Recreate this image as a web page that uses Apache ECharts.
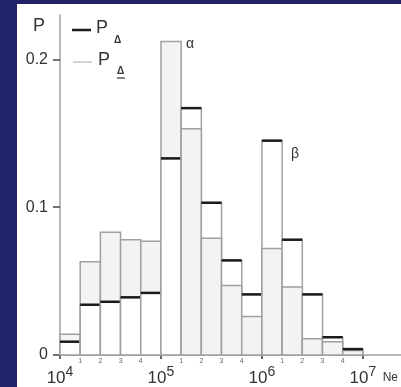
<!DOCTYPE html>
<html>
<head>
<meta charset="utf-8">
<script src="https://cdn.jsdelivr.net/npm/echarts@6.0.0/dist/echarts.min.js"></script>
<style>
html, body { margin: 0; padding: 0; }
body { width: 401px; height: 387px; background: #23236a; position: relative; overflow: hidden; }
#chart { position: absolute; left: 17px; top: 4px; width: 384px; height: 383px; background: #fff; }
</style>
</head>
<body>
<div id="chart"></div>
<script>
// lower edge of each bin, log10(Ne), bins are 0.2 decade wide
var binLo = [4.0, 4.2, 4.4, 4.6, 4.8, 5.0, 5.2, 5.4, 5.6, 5.8, 6.0, 6.2, 6.4, 6.6, 6.8];
var binWidth = 0.2;
// P_delta (thick black top)
var pDelta = [0.009, 0.034, 0.036, 0.039, 0.042, 0.133, 0.167, 0.103, 0.064, 0.041, 0.145, 0.078, 0.041, 0.012, 0.004];
// P_delta underlined (thin grey top)
var pDeltaU = [0.014, 0.063, 0.083, 0.078, 0.077, 0.212, 0.153, 0.079, 0.047, 0.026, 0.072, 0.046, 0.011, 0.009, 0.003];

var yTicks = [0, 0.1, 0.2];
var majorTicks = [4, 5, 6, 7];
var minorTicks = [4.2, 4.4, 4.6, 4.8, 5.2, 5.4, 5.6, 5.8, 6.2, 6.4, 6.6, 6.8];

var font = 'Liberation Sans, Arial, sans-serif';

var data = [];
for (var i = 0; i < binLo.length; i++) {
	data.push([binLo[i], pDelta[i], pDeltaU[i]]);
}

function renderItem(params, api) {
	var lo = api.value(0);
	var a = api.value(1);
	var b = api.value(2);
	var base = api.coord([lo, 0]);
	var right = api.coord([lo + binWidth, 0])[0];
	var yA = api.coord([lo, a])[1];
	var yB = api.coord([lo, b])[1];
	var w = right - base[0];
	var thickRect = {
		type: 'rect',
		shape: { x: base[0], y: yA, width: w, height: base[1] - yA },
		style: { fill: '#ffffff', stroke: '#a0a0a0', lineWidth: 1.5 }
	};
	var thinRect = {
		type: 'rect',
		shape: { x: base[0], y: yB, width: w, height: base[1] - yB },
		style: { fill: '#f3f3f3', stroke: '#a0a0a0', lineWidth: 1.5 }
	};
	// taller box behind, shorter box in front
	var children = a >= b ? [thickRect, thinRect] : [thinRect, thickRect];
	children.push({
		type: 'line',
		shape: { x1: base[0], y1: yA, x2: right, y2: yA },
		style: { stroke: '#1a1a1a', lineWidth: 2.5 }
	});
	return { type: 'group', children: children };
}

var myChart = echarts.init(document.getElementById('chart'));
var option = {
	backgroundColor: '#ffffff',
	animation: false,
	grid: { left: 43, right: -2, top: 11, bottom: 29 },
	xAxis: [
		{
			type: 'value',
			min: 4,
			max: 7.374,
			axisLine: { show: true, lineStyle: { color: '#a0a0a0', width: 1.5 } },
			axisTick: { show: false },
			splitLine: { show: false },
			axisLabel: {
				customValues: minorTicks,
				margin: 3,
				fontSize: 7,
				color: '#666',
				fontFamily: font,
				formatter: function(v) {
					return String(Math.round((v - Math.floor(v + 1e-6)) * 5));
				}
			}
		},
		{
			type: 'value',
			position: 'bottom',
			min: 4,
			max: 7.374,
			name: 'Ne',
			nameLocation: 'end',
			nameGap: -18,
			nameTextStyle: { fontSize: 12, color: '#333', fontFamily: font, align: 'left', verticalAlign: 'top', padding: [17, 0, 0, 0] },
			axisLine: { show: false },
			axisTick: { show: true, customValues: majorTicks, length: 4, lineStyle: { color: '#333', width: 1.5 } },
			splitLine: { show: false },
			axisLabel: {
				customValues: majorTicks,
				margin: 10,
				color: '#333',
				fontFamily: font,
				formatter: function(v) {
					return '{a|10}{b|' + Math.round(v) + '}';
				},
				rich: {
					a: { fontSize: 17, lineHeight: 22, verticalAlign: 'bottom', color: '#333', fontFamily: font },
					b: { fontSize: 14, lineHeight: 14, verticalAlign: 'top', color: '#333', fontFamily: font }
				}
			}
		}
	],
	yAxis: {
		type: 'value',
		min: 0,
		max: 0.23,
		name: 'P',
		nameLocation: 'end',
		nameGap: 0,
		nameTextStyle: { fontSize: 18, color: '#333', fontFamily: font, align: 'right', verticalAlign: 'top', padding: [2, 15, 0, 0] },
		axisLine: { show: true, lineStyle: { color: '#a0a0a0', width: 1.5 } },
		axisTick: { show: true, customValues: yTicks, length: 7, lineStyle: { color: '#444', width: 1.5 } },
		splitLine: { show: false },
		axisLabel: {
			customValues: yTicks,
			margin: 12,
			fontSize: 16,
			color: '#333',
			fontFamily: font,
			formatter: function(v) {
				return v === 0 ? '0' : v.toFixed(1);
			}
		}
	},
	graphic: [
		{ type: 'line', shape: { x1: 55, y1: 26, x2: 74, y2: 26 }, style: { stroke: '#1a1a1a', lineWidth: 2.5 } },
		{ type: 'text', left: 79, top: 15, style: { text: 'P', fontSize: 18, fill: '#333', fontFamily: font } },
		{ type: 'text', left: 97, top: 31, style: { text: 'Δ', fontSize: 10, fontWeight: 'bold', fill: '#333', fontFamily: font } },
		{ type: 'line', shape: { x1: 56, y1: 58, x2: 75, y2: 58 }, style: { stroke: '#aaaaaa', lineWidth: 1 } },
		{ type: 'text', left: 81, top: 47, style: { text: 'P', fontSize: 18, fill: '#333', fontFamily: font } },
		{ type: 'text', left: 100, top: 62, style: { text: 'Δ', fontSize: 10, fontWeight: 'bold', fill: '#333', fontFamily: font } },
		{ type: 'line', shape: { x1: 100, y1: 74, x2: 108, y2: 74 }, style: { stroke: '#333', lineWidth: 1.2 } },
		{ type: 'text', left: 169, top: 33, style: { text: 'α', fontSize: 14, fill: '#333', fontFamily: font } },
		{ type: 'text', left: 274, top: 143, style: { text: 'β', fontSize: 14, fill: '#333', fontFamily: font } }
	],
	series: [
		{
			type: 'custom',
			xAxisIndex: 0,
			yAxisIndex: 0,
			renderItem: renderItem,
			encode: { x: 0, y: [1, 2] },
			data: data
		}
	]
};
myChart.setOption(option);
</script>
</body>
</html>
